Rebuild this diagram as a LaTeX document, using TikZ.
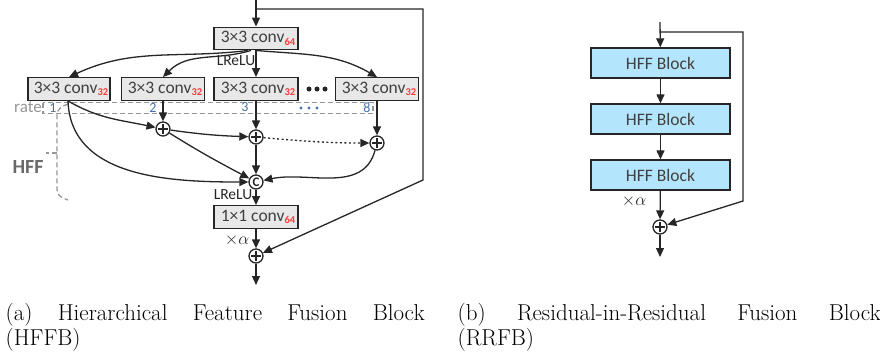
\documentclass[tikz,border=0pt]{standalone}
\usepackage{fontspec}
\newfontfamily\carl{Carlito}
\usetikzlibrary{arrows.meta}
\definecolor{ln}{RGB}{38,38,38}
\definecolor{boxfill}{RGB}{232,232,232}
\definecolor{bluefill}{RGB}{179,229,252}
\definecolor{txt}{RGB}{64,64,64}
\definecolor{subred}{RGB}{250,60,60}
\definecolor{ratecol}{RGB}{70,114,170}
\definecolor{dashgray}{RGB}{150,150,150}
\definecolor{hffgray}{RGB}{105,105,105}
\newcommand{\convtxt}[2]{\hspace*{4pt}{\fontsize{17.5}{19}\selectfont #1}\raisebox{-2.5pt}{\textcolor{subred}{\bfseries\fontsize{10.5}{11}\selectfont #2}}}
\begin{document}
\begin{tikzpicture}[x=1pt,y=1pt,
  >={Triangle[length=9pt,width=8pt]},
  line width=1.3pt,
  convbox/.style={draw=ln, line width=1.4pt, fill=boxfill, minimum width=84pt, minimum height=22.5pt, inner sep=0pt, font=\carl, text=txt},
  hffbox/.style={draw=ln, line width=1.4pt, fill=bluefill, minimum width=139pt, minimum height=30pt, inner sep=0pt, font=\carl\fontsize{17.5}{19}\selectfont, text=txt},
  plusnode/.style={circle, draw=ln, line width=1.3pt, minimum size=14pt, inner sep=0pt, fill=white,
    path picture={\draw[line width=1.8pt, ln] ([xshift=-4.6pt]path picture bounding box.center) -- ([xshift=4.6pt]path picture bounding box.center)
      ([yshift=-4.6pt]path picture bounding box.center) -- ([yshift=4.6pt]path picture bounding box.center);}},
  catnode/.style={circle, draw=ln, line width=1.3pt, minimum size=14pt, inner sep=0pt, fill=white, font=\carl\bfseries\fontsize{13}{13}\selectfont, text=ln},
  lbl/.style={font=\carl\fontsize{15.5}{17}\selectfont, text=ln, inner sep=0pt},
  ratelbl/.style={font=\carl\fontsize{14}{15}\selectfont, text=ratecol, inner sep=0pt},
  alab/.style={font=\fontsize{18}{20}\selectfont, text=ln, inner sep=0pt, anchor=base},
  captxt/.style={font=\fontsize{23}{26}\selectfont, inner sep=0pt, anchor=base west},
  arr/.style={draw=ln, ->},
  dashline/.style={draw=dashgray, line width=1.3pt, dash pattern=on 5pt off 3pt}
]
\useasboundingbox (0,0) rectangle (880,-354);

% ---------------- left: HFFB ----------------
\coordinate (in0) at (256,0);
\coordinate (sp1) at (256,-9);
\coordinate (k1) at (423,-180);
\node[convbox] (c64) at (256,-38.5) {\convtxt{3×3 conv}{64}};
\node[convbox, minimum width=82pt] (b1) at (69,-89) {\convtxt{3×3 conv}{32}};
\node[convbox, minimum width=83pt] (b2) at (163,-89) {\convtxt{3×3 conv}{32}};
\node[convbox] (b3) at (256,-89) {\convtxt{3×3 conv}{32}};
\node[convbox, minimum width=83pt] (b4) at (377,-89) {\convtxt{3×3 conv}{32}};
\foreach \xx in {309,317,325} \fill[ln] (\xx,-89) circle (2.5pt);

% rate dashed rectangle
\draw[dashline] (43,-102.5) rectangle (373,-113.5);
\node[font=\carl\fontsize{17}{18}\selectfont, text=dashgray, inner sep=0pt] (rate) at (28,-107.5) {rate};
\node[ratelbl] (r1) at (53,-108) {1};
\node[ratelbl] (r2) at (153,-107.5) {2};
\node[ratelbl] (r3) at (245,-107.5) {3};
\node[ratelbl] (r8) at (367,-107.5) {8};
\foreach \xx in {301,309,317} \fill[ratecol] (\xx,-108) circle (1.7pt);

% HFF brace
\draw[dashline] (68,-104) to[out=200,in=90] (57,-115) -- (57,-190) to[out=-90,in=160] (68,-200);
\draw[dashline] (57,-153) -- (46,-153);
\node[font=\carl\bfseries\fontsize{20}{21}\selectfont, text=hffgray, inner sep=0pt] (hff) at (28,-167) {HFF};

% fusion nodes
\node[plusnode] (p1) at (163,-129) {};
\node[plusnode] (p2) at (256,-137) {};
\node[plusnode] (p3) at (377,-143) {};
\node[catnode] (cc) at (256,-182) {C};
\node[convbox] (c1) at (256,-217) {\convtxt{1×1 conv}{64}};
\node[plusnode] (pf) at (256,-256) {};
\coordinate (out1) at (256,-285);

\node[lbl] (lr1) at (236,-61) {LReLU};
\node[lbl] (lr2) at (233,-194.5) {LReLU};
\node[alab] (al1) at (237,-244) {$\times\alpha$};

% connectors
\draw[arr] (in0) -- (c64);
\draw[arr] (sp1) -| (k1) -- (pf);
\draw[arr] ([xshift=-8pt]c64.south) to[out=187,in=25] (b1.north);
\draw[arr] ([xshift=-5pt]c64.south) to[out=197,in=45] (b2.north);
\draw[arr] (c64) -- (b3);
\draw[arr] ([xshift=0pt]c64.south) to[out=-5,in=150] (b4.north);
\draw[arr] (b2) -- (p1);
\draw[arr] (b3) -- (p2);
\draw[arr] (b4) -- (p3);
\draw[arr] ([xshift=-1pt]b1.south) to[out=-30,in=168] (p1);
\draw[arr] ([xshift=-1pt]b1.south) to[out=-88,in=180] (cc);
\draw[arr] (p1) to[out=-32,in=152] (cc);
\draw[arr] (p1) to[out=-8,in=178] (p2);
\draw[arr, dash pattern=on 2pt off 2.5pt] (p2) to[out=-5,in=180] (p3);
\draw[arr] (p3) to[out=-105,in=12] (cc);
\draw[arr] (p2) -- (cc);
\draw[arr] (cc) -- (c1);
\draw[arr] (c1) -- (pf);
\draw[arr] (pf) -- (out1);

% ---------------- right: RRFB ----------------
\coordinate (in2) at (660,-22);
\coordinate (sp2) at (660,-32);
\coordinate (k2) at (743,-201);
\node[hffbox] (h1) at (660.5,-63) {HFF Block};
\node[hffbox] (h2) at (660.5,-119) {HFF Block};
\node[hffbox] (h3) at (660.5,-175) {HFF Block};
\node[plusnode] (pf2) at (660,-227) {};
\coordinate (out2) at (660,-257);
\node[alab] (al2) at (634,-205) {$\times\alpha$};

\draw[arr] (in2) -- (h1);
\draw[arr] (h1) -- (h2);
\draw[arr] (h2) -- (h3);
\draw[arr] (h3) -- (pf2);
\draw[arr] (sp2) -| (k2) -- (pf2);
\draw[arr] (pf2) -- (out2);

% ---------------- captions ----------------
\node[captxt] (capa1) at (5,-320) {\makebox[419pt][s]{(a) Hierarchical Feature Fusion Block}};
\node[captxt] (capa2) at (5,-345) {(HFFB)};
\node[captxt] (capb1) at (457,-320) {\makebox[423pt][s]{(b) Residual-in-Residual Fusion Block}};
\node[captxt] (capb2) at (457,-345) {(RRFB)};
\end{tikzpicture}
\end{document}
